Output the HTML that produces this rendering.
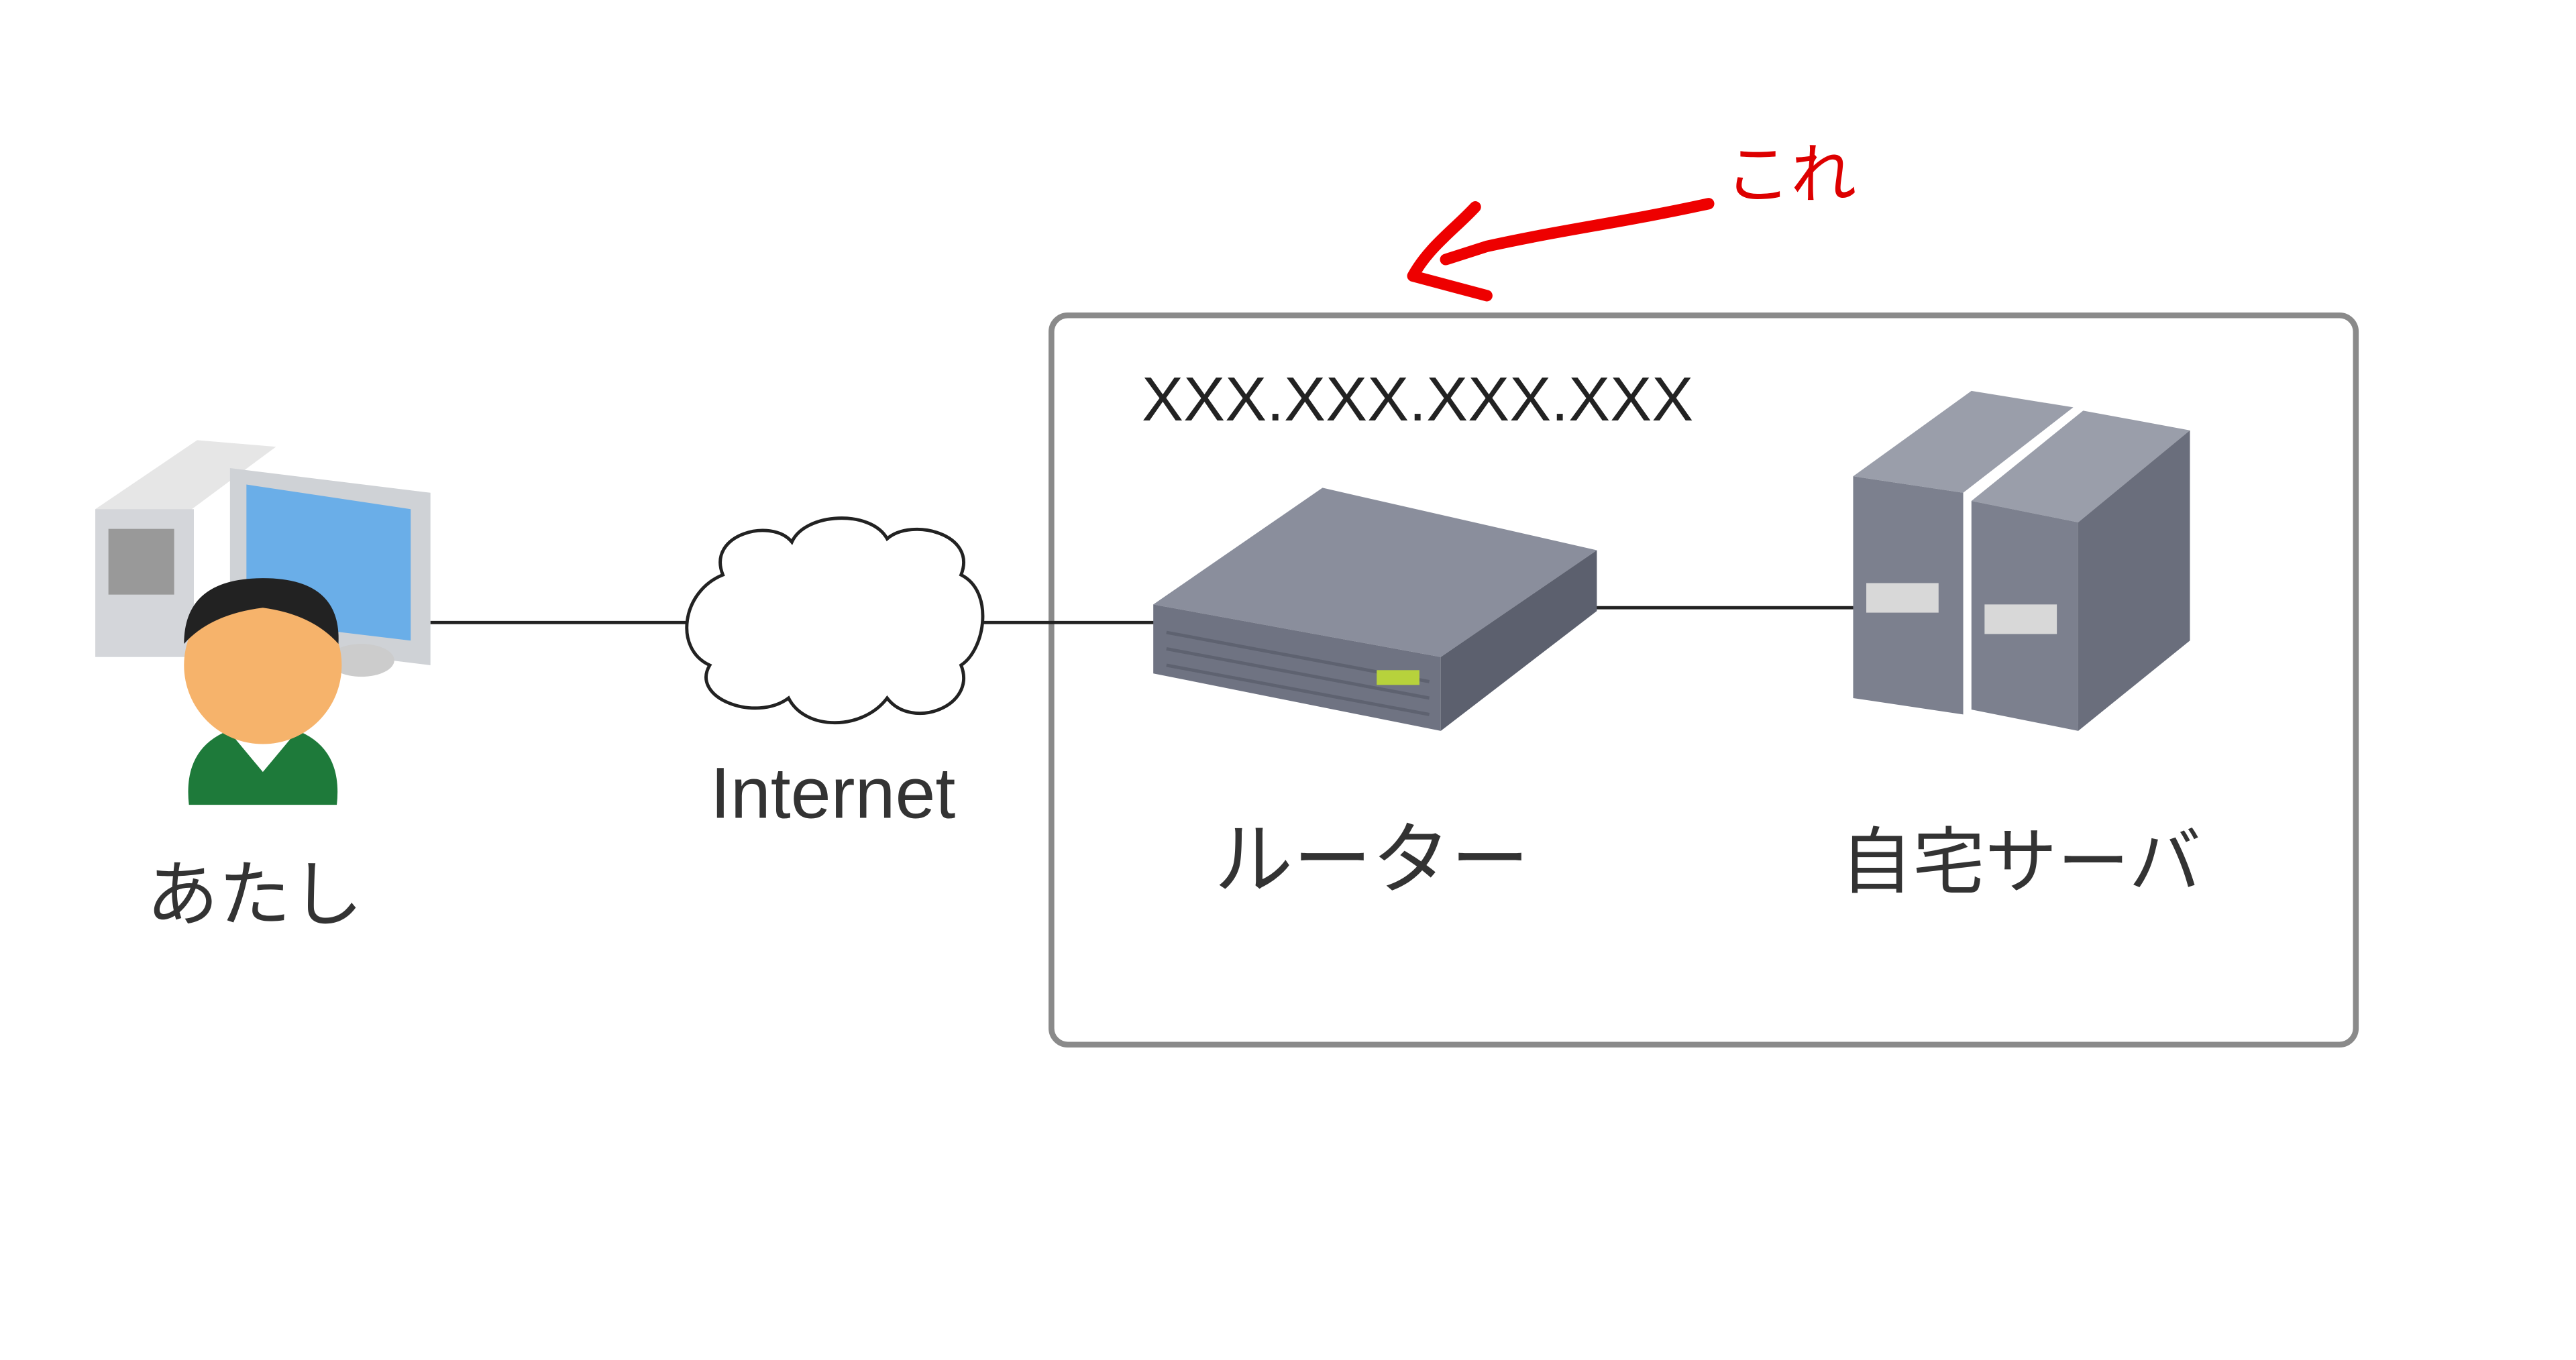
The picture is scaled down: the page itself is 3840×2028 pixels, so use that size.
<!DOCTYPE html>
<html><head><meta charset="utf-8"><style>
html,body{margin:0;padding:0;background:#fff;width:3840px;height:2028px;overflow:hidden}
svg{display:block}
text{font-family:"Liberation Sans","Noto Sans CJK JP",sans-serif}
</style></head><body>
<svg width="3840" height="2028" viewBox="0 0 1568 828" preserveAspectRatio="none" xmlns="http://www.w3.org/2000/svg">
<rect width="1568" height="828" fill="#fff"/>
<!-- container -->
<rect x="640" y="192" width="794" height="444" rx="10" fill="none" stroke="#8a8a8a" stroke-width="3.5"/>
<text x="695" y="256" font-size="38" fill="#222">XXX.XXX.XXX.XXX</text>
<!-- lines -->
<line x1="262" y1="379" x2="420" y2="379" stroke="#222" stroke-width="2"/>
<line x1="596" y1="379" x2="704" y2="379" stroke="#222" stroke-width="2"/>
<line x1="970" y1="370" x2="1130" y2="370" stroke="#222" stroke-width="2"/>
<!-- cloud -->
<path d="M440,350 C430,325 470,315 482,330 C490,312 530,310 540,328 C555,315 595,325 585,350 C605,360 600,395 585,405 C595,430 555,445 540,425 C525,445 490,445 480,425 C460,440 420,425 432,405 C410,395 415,360 440,350 Z" fill="#fff" stroke="#222" stroke-width="2"/>
<text x="507" y="498" font-size="44" fill="#333" text-anchor="middle">Internet</text>
<!-- router -->
<polygon points="702,368 805,297 972,335 877,400" fill="#8a8e9c"/>
<polygon points="702,368 877,400 877,445 702,410" fill="#6f7382"/>
<polygon points="877,400 972,335 972,372 877,445" fill="#5c606e"/>
<g stroke="#5e6270" stroke-width="2"><line x1="710" y1="385" x2="870" y2="415"/><line x1="710" y1="395" x2="870" y2="425"/><line x1="710" y1="405" x2="870" y2="435"/></g>
<rect x="838" y="408" width="26" height="9" fill="#b7d23c"/>
<text x="835" y="540" font-size="48" fill="#333" text-anchor="middle">ルーター</text>
<!-- servers -->
<polygon points="1128,290 1200,238 1262,248 1195,300" fill="#9a9eaa"/>
<polygon points="1128,290 1195,300 1195,435 1128,425" fill="#7c808e"/>
<polygon points="1200,305 1268,250 1333,262 1265,318" fill="#9a9eaa"/>
<polygon points="1200,305 1265,318 1265,445 1200,432" fill="#7c808e"/>
<polygon points="1265,318 1333,262 1333,390 1265,445" fill="#6a6e7c"/>
<rect x="1136" y="355" width="44" height="18" fill="#d8d8d8"/>
<rect x="1208" y="368" width="44" height="18" fill="#d8d8d8"/>
<text x="1230" y="540" font-size="44" fill="#333" text-anchor="middle">自宅サーバ</text>
<!-- PC -->
<polygon points="58,310 120,268 168,272 110,315" fill="#e6e6e6"/>
<rect x="58" y="310" width="60" height="90" fill="#d4d6da"/>
<rect x="66" y="322" width="40" height="40" fill="#999"/>
<polygon points="140,285 262,300 262,405 140,390" fill="#cfd2d6"/>
<polygon points="150,295 250,310 250,390 150,378" fill="#6aaee8"/>
<ellipse cx="220" cy="402" rx="20" ry="10" fill="#ccc"/>
<!-- person -->
<path d="M115,490 Q110,445 160,440 Q210,445 205,490 Z" fill="#1e7a3a"/>
<polygon points="140,446 160,470 180,446" fill="#fff"/>
<ellipse cx="160" cy="405" rx="48" ry="48" fill="#f6b36b"/>
<path d="M112,392 Q112,352 160,352 Q208,352 206,392 Q190,374 160,370 Q128,374 112,392 Z" fill="#222"/>
<text x="155" y="560" font-size="44" fill="#333" text-anchor="middle">あたし</text>
<!-- red annotation -->
<path d="M1040,124 C990,135 950,140 905,150 L880,158" fill="none" stroke="#e00" stroke-width="7" stroke-linecap="round"/>
<path d="M898,126 C885,140 870,150 860,168 C875,172 890,176 905,180" fill="none" stroke="#e00" stroke-width="7" stroke-linecap="round" stroke-linejoin="round"/>
<text x="1050" y="120" font-size="40" fill="#d00">これ</text>
</svg>
</body></html>
